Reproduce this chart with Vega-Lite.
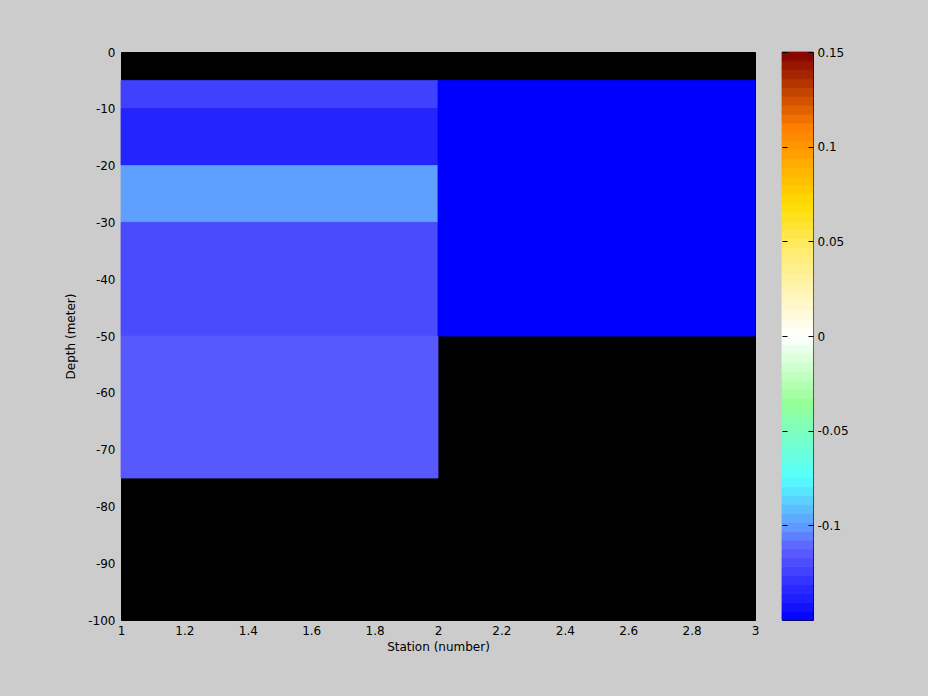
{
  "$schema": "https://vega.github.io/schema/vega-lite/v6.json",
  "background": "#cccccc",
  "padding": {"left": 64, "top": 45, "right": 84, "bottom": 44},
  "spacing": 21,
  "config": {
    "font": "DejaVu Sans",
    "view": {"stroke": "black", "strokeWidth": 1},
    "axis": {"labelFontSize": 12, "titleFontSize": 12, "labelColor": "black", "titleColor": "black", "titleFontWeight": "normal", "grid": false, "domain": false}
  },
  "datasets": {
    "cells": [
      {"s0": 1, "s1": 2, "d0": -5, "d1": -10, "v": -0.1247},
      {"s0": 1, "s1": 2, "d0": -10, "d1": -20, "v": -0.1358},
      {"s0": 1, "s1": 2, "d0": -20, "d1": -30, "v": -0.099},
      {"s0": 1, "s1": 2, "d0": -30, "d1": -50, "v": -0.1207},
      {"s0": 1, "s1": 2, "d0": -50, "d1": -75, "v": -0.1152},
      {"s0": 2, "s1": 3, "d0": -5, "d1": -50, "v": -0.15}
    ],
    "bar": [
      {"lo": -0.15, "hi": -0.1453125, "v": -0.1476563},
      {"lo": -0.1453125, "hi": -0.140625, "v": -0.1429688},
      {"lo": -0.140625, "hi": -0.1359375, "v": -0.1382813},
      {"lo": -0.1359375, "hi": -0.13125, "v": -0.1335938},
      {"lo": -0.13125, "hi": -0.1265625, "v": -0.1289063},
      {"lo": -0.1265625, "hi": -0.121875, "v": -0.1242188},
      {"lo": -0.121875, "hi": -0.1171875, "v": -0.1195313},
      {"lo": -0.1171875, "hi": -0.1125, "v": -0.1148438},
      {"lo": -0.1125, "hi": -0.1078125, "v": -0.1101563},
      {"lo": -0.1078125, "hi": -0.103125, "v": -0.1054688},
      {"lo": -0.103125, "hi": -0.0984375, "v": -0.1007813},
      {"lo": -0.0984375, "hi": -0.09375, "v": -0.0960938},
      {"lo": -0.09375, "hi": -0.0890625, "v": -0.0914063},
      {"lo": -0.0890625, "hi": -0.084375, "v": -0.0867188},
      {"lo": -0.084375, "hi": -0.0796875, "v": -0.0820313},
      {"lo": -0.0796875, "hi": -0.075, "v": -0.0773438},
      {"lo": -0.075, "hi": -0.0703125, "v": -0.0726563},
      {"lo": -0.0703125, "hi": -0.065625, "v": -0.0679688},
      {"lo": -0.065625, "hi": -0.0609375, "v": -0.0632813},
      {"lo": -0.0609375, "hi": -0.05625, "v": -0.0585938},
      {"lo": -0.05625, "hi": -0.0515625, "v": -0.0539063},
      {"lo": -0.0515625, "hi": -0.046875, "v": -0.0492188},
      {"lo": -0.046875, "hi": -0.0421875, "v": -0.0445313},
      {"lo": -0.0421875, "hi": -0.0375, "v": -0.0398438},
      {"lo": -0.0375, "hi": -0.0328125, "v": -0.0351563},
      {"lo": -0.0328125, "hi": -0.028125, "v": -0.0304688},
      {"lo": -0.028125, "hi": -0.0234375, "v": -0.0257813},
      {"lo": -0.0234375, "hi": -0.01875, "v": -0.0210938},
      {"lo": -0.01875, "hi": -0.0140625, "v": -0.0164063},
      {"lo": -0.0140625, "hi": -0.009375, "v": -0.0117188},
      {"lo": -0.009375, "hi": -0.0046875, "v": -0.0070313},
      {"lo": -0.0046875, "hi": 0, "v": -0.0023438},
      {"lo": 0, "hi": 0.0046875, "v": 0.0023438},
      {"lo": 0.0046875, "hi": 0.009375, "v": 0.0070313},
      {"lo": 0.009375, "hi": 0.0140625, "v": 0.0117188},
      {"lo": 0.0140625, "hi": 0.01875, "v": 0.0164063},
      {"lo": 0.01875, "hi": 0.0234375, "v": 0.0210938},
      {"lo": 0.0234375, "hi": 0.028125, "v": 0.0257813},
      {"lo": 0.028125, "hi": 0.0328125, "v": 0.0304688},
      {"lo": 0.0328125, "hi": 0.0375, "v": 0.0351563},
      {"lo": 0.0375, "hi": 0.0421875, "v": 0.0398438},
      {"lo": 0.0421875, "hi": 0.046875, "v": 0.0445313},
      {"lo": 0.046875, "hi": 0.0515625, "v": 0.0492188},
      {"lo": 0.0515625, "hi": 0.05625, "v": 0.0539063},
      {"lo": 0.05625, "hi": 0.0609375, "v": 0.0585938},
      {"lo": 0.0609375, "hi": 0.065625, "v": 0.0632813},
      {"lo": 0.065625, "hi": 0.0703125, "v": 0.0679688},
      {"lo": 0.0703125, "hi": 0.075, "v": 0.0726563},
      {"lo": 0.075, "hi": 0.0796875, "v": 0.0773438},
      {"lo": 0.0796875, "hi": 0.084375, "v": 0.0820313},
      {"lo": 0.084375, "hi": 0.0890625, "v": 0.0867188},
      {"lo": 0.0890625, "hi": 0.09375, "v": 0.0914063},
      {"lo": 0.09375, "hi": 0.0984375, "v": 0.0960938},
      {"lo": 0.0984375, "hi": 0.103125, "v": 0.1007813},
      {"lo": 0.103125, "hi": 0.1078125, "v": 0.1054688},
      {"lo": 0.1078125, "hi": 0.1125, "v": 0.1101563},
      {"lo": 0.1125, "hi": 0.1171875, "v": 0.1148438},
      {"lo": 0.1171875, "hi": 0.121875, "v": 0.1195313},
      {"lo": 0.121875, "hi": 0.1265625, "v": 0.1242188},
      {"lo": 0.1265625, "hi": 0.13125, "v": 0.1289063},
      {"lo": 0.13125, "hi": 0.1359375, "v": 0.1335938},
      {"lo": 0.1359375, "hi": 0.140625, "v": 0.1382813},
      {"lo": 0.140625, "hi": 0.1453125, "v": 0.1429688},
      {"lo": 0.1453125, "hi": 0.15, "v": 0.1476563}
    ]
  },
  "hconcat": [
    {
      "width": 634,
      "height": 568,
      "view": {"fill": "black", "stroke": "black"},
      "data": {"name": "cells"},
      "mark": {"type": "rect", "strokeWidth": 0.8},
      "encoding": {
        "x": {"field": "s0", "type": "quantitative", "scale": {"domain": [1, 3], "nice": false, "zero": false},
              "axis": {"title": "Station (number)", "values": [1, 1.2, 1.4, 1.6, 1.8, 2, 2.2, 2.4, 2.6, 2.8, 3], "labelExpr": "'' + datum.value", "ticks": false, "labelPadding": 5, "titlePadding": 5, "labelFlush": false}},
        "x2": {"field": "s1"},
        "y": {"field": "d0", "type": "quantitative", "scale": {"domain": [-100, 0], "nice": false, "zero": false},
              "axis": {"title": "Depth (meter)", "values": [0, -10, -20, -30, -40, -50, -60, -70, -80, -90, -100], "labelExpr": "'' + datum.value", "ticks": false, "labelPadding": 6, "titlePadding": 10, "labelFlush": false}},
        "y2": {"field": "d1"},
        "color": {"field": "v", "type": "quantitative", "legend": null,
                  "scale": {"type": "linear", "interpolate": "rgb",
                            "domain": [-0.15, -0.112, -0.1, -0.075, -0.035, 0, 0.045, 0.07, 0.11, 0.15],
                            "range": ["#0000ff", "#6060ff", "#5f9cff", "#55ffff", "#96ff96", "#ffffff", "#ffec70", "#ffdc00", "#ff8000", "#800000"]}},
        "stroke": {"field": "v", "type": "quantitative", "legend": null,
                  "scale": {"type": "linear", "interpolate": "rgb",
                            "domain": [-0.15, -0.112, -0.1, -0.075, -0.035, 0, 0.045, 0.07, 0.11, 0.15],
                            "range": ["#0000ff", "#6060ff", "#5f9cff", "#55ffff", "#96ff96", "#ffffff", "#ffec70", "#ffdc00", "#ff8000", "#800000"]}}
      }
    },
    {
      "width": 31,
      "height": 568,
      "data": {"name": "bar"},
      "mark": {"type": "rect", "strokeWidth": 0.8},
      "encoding": {
        "x": {"value": 0},
        "x2": {"value": "width"},
        "y": {"field": "lo", "type": "quantitative", "scale": {"domain": [-0.15, 0.15], "nice": false, "zero": false},
              "axis": {"orient": "right", "title": null, "values": [-0.1, -0.05, 0, 0.05, 0.1, 0.15], "labelExpr": "'' + datum.value", "tickSize": -31, "tickDash": [5, 21, 5], "tickColor": "black", "labelPadding": 35, "labelFlush": false, "zindex": 1}},
        "y2": {"field": "hi"},
        "color": {"field": "v", "type": "quantitative", "legend": null},
        "stroke": {"field": "v", "type": "quantitative", "legend": null}
      }
    }
  ]
}
